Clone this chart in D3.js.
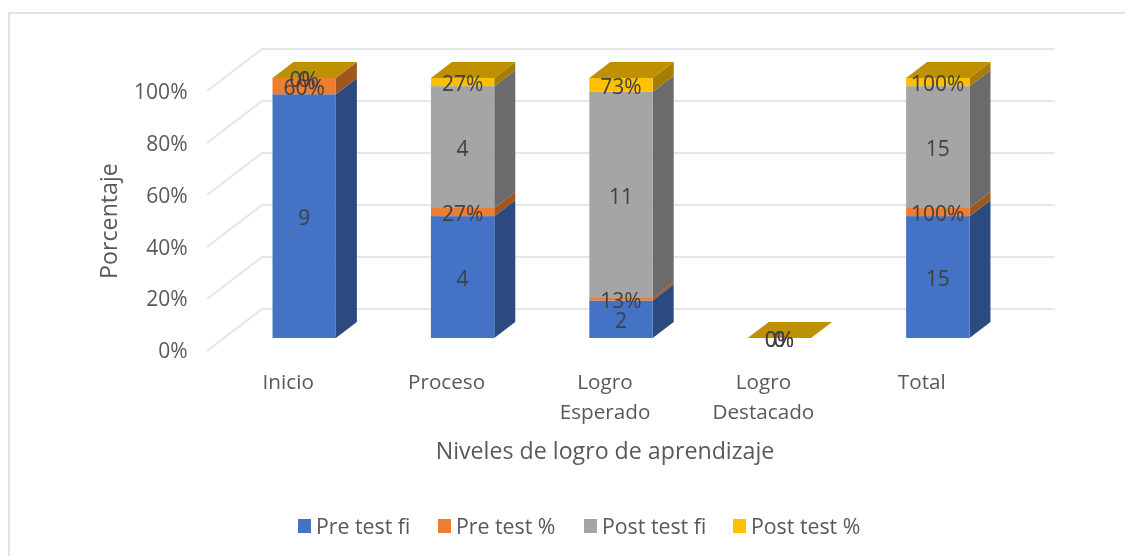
<!DOCTYPE html>
<html>
<head>
<meta charset="utf-8">
<script src="https://cdn.jsdelivr.net/npm/d3@7/dist/d3.min.js"></script>
<style>
html,body{margin:0;padding:0;background:#fff;}
svg{display:block;filter:blur(0.35px);}
text{font-family:"Open Sans",sans-serif;}
</style>
</head>
<body>
<div id="chart"></div>
<script>
const categories = ["Inicio","Proceso","Logro Esperado","Logro Destacado","Total"];
const seriesNames = ["Pre test fi","Pre test %","Post test fi","Post test %"];
const preFi = [9,4,2,0,15];
const prePct = [0.6,0.2667,0.1333,0,1];
const postFi = [0,4,11,0,15];
const postPct = [0,0.2667,0.7333,0,1];
const yTicks = [0,0.2,0.4,0.6,0.8,1];
const frontColors = ["#4472C4","#ED7D31","#A5A5A5","#FFC000"];
const sideColors = ["#2A4A80","#A0561F","#6B6B6B","#A67D00"];
const topGold = "#BF9000";

const W=1125,H=556;
const depthX=21, depthY=-16;
const wallX=-55, wallY=42;
const svg=d3.select("#chart").append("svg").attr("width",W).attr("height",H);

svg.append("rect").attr("x",9).attr("y",13).attr("width",1122).attr("height",560)
  .attr("fill","#fff").attr("stroke","#D9D9D9").attr("stroke-width",1.5);

const x=d3.scaleBand().domain(categories).range([225,1017]).paddingInner(0.6).paddingOuter(0.3);
const y=d3.scaleLinear().domain([0,1]).range([338,78]);
const yBack=d3.scaleLinear().domain([0,1]).range([309,49]);

// gridlines: floor-to-wall
const grid=svg.append("g").attr("fill","none").attr("stroke","#E6E6E6").attr("stroke-width",2);
yTicks.forEach(t=>{
  const by=yBack(t);
  grid.append("path").attr("d",d3.line()([[262+wallX,by+wallY],[262,by],[1055,by]]));
});

// axis labels
const yLab=d3.scaleLinear().domain([0,1]).range([351,92]);
const axis=d3.axisLeft(yLab).tickValues(yTicks).tickSize(0).tickPadding(0).tickFormat(d3.format(".0%"));
const ax=svg.append("g").attr("transform","translate(187.5,0)").call(axis);
ax.select(".domain").remove();
ax.selectAll("text").attr("fill","#595959").style("font-size","21px").style("font-family",'"Open Sans",sans-serif');

// stacks
const rows=categories.map((c,i)=>({cat:c,a:preFi[i],b:prePct[i],c:postFi[i],d:postPct[i]}));
const keys=["a","b","c","d"];
const stacked=d3.stack().keys(keys).offset(d3.stackOffsetExpand)(rows);
const span=d=>{
  const a=d[0],b=d[1];
  return (isNaN(a)||isNaN(b))?[0,0]:[a,b];
};

const bars=svg.append("g");
categories.forEach((cat,ci)=>{
  const xl=x(cat), bw=x.bandwidth();
  const g=bars.append("g");
  stacked.forEach((s,si)=>{
    const [y0,y1]=span(s[ci]);
    if(y1-y0<=0) return;
    const yt=y(y1), yb=y(y0);
    g.append("polygon").attr("fill",sideColors[si])
      .attr("points",[[xl+bw,yb],[xl+bw+depthX,yb+depthY],[xl+bw+depthX,yt+depthY],[xl+bw,yt]].join(" "));
    g.append("rect").attr("x",xl).attr("y",yt).attr("width",bw).attr("height",yb-yt).attr("fill",frontColors[si]);
  });
  const empty=stacked.every(s=>{const [a,b]=span(s[ci]);return b-a<=0;});
  const topY=empty?y(0):y(1);
  g.append("polygon").attr("fill",topGold)
    .attr("points",[[xl,topY],[xl+bw,topY],[xl+bw+depthX,topY+depthY],[xl+depthX,topY+depthY]].join(" "));
});

// data labels
const fmtPct=d3.format(".0%");
const labels=svg.append("g").attr("text-anchor","middle").attr("fill","#404040").style("font-size","21px");
categories.forEach((cat,ci)=>{
  const cx=x(cat)+x.bandwidth()/2;
  stacked.forEach((s,si)=>{
    const [y0,y1]=span(s[ci]);
    const raw=[preFi,prePct,postFi,postPct][si][ci];
    const txt=si%2===0?String(raw):fmtPct(raw);
    labels.append("text").attr("x",cx).attr("y",y((y0+y1)/2)+1.5).attr("dy","0.36em").text(txt);
  });
});

// category labels
const catLab=svg.append("g").attr("text-anchor","middle").attr("fill","#595959").style("font-size","20.7px");
categories.forEach(cat=>{
  const t=catLab.append("text").attr("y",389);
  cat.split(" ").forEach((w,i)=>{
    t.append("tspan").attr("x",x(cat)+x.bandwidth()/2-16).attr("dy",i?30:0).text(w);
  });
});

svg.append("text").attr("x",605).attr("y",458.5).attr("text-anchor","middle").attr("fill","#595959").style("font-size","23.2px").text("Niveles de logro de aprendizaje");
svg.append("text").attr("transform","translate(117,221) rotate(-90)").attr("text-anchor","middle").attr("fill","#595959").style("font-size","23.2px").text("Porcentaje");

// legend
const legendX=[298,438,584,733];
const leg=svg.append("g");
seriesNames.forEach((n,i)=>{
  leg.append("rect").attr("x",legendX[i]).attr("y",519).attr("width",13).attr("height",14).attr("fill",frontColors[i]);
  leg.append("text").attr("x",legendX[i]+18).attr("y",533.5).attr("fill","#595959").style("font-size","21.3px").text(n);
});
</script>
</body>
</html>
